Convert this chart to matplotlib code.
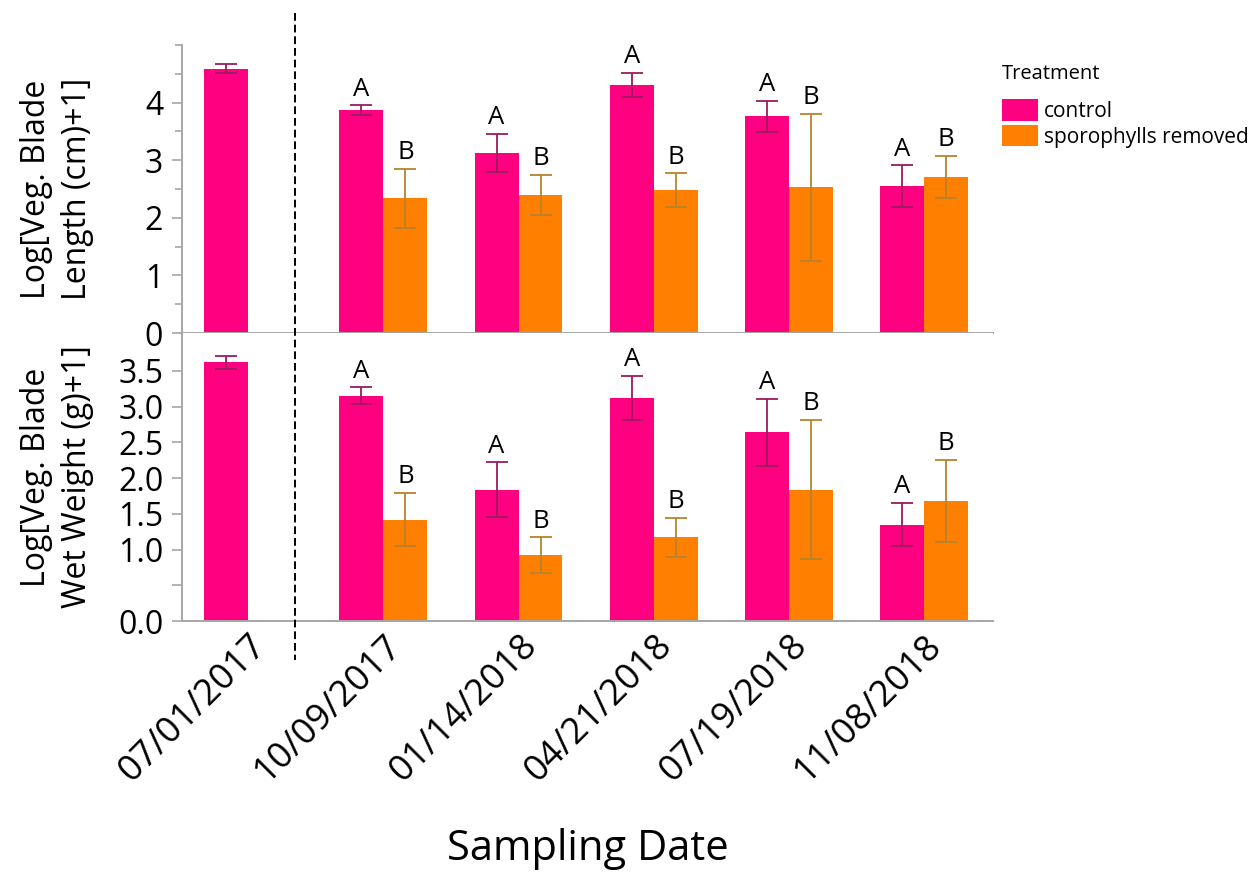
import numpy as np
import matplotlib
matplotlib.use("Agg")
import matplotlib.pyplot as plt
from matplotlib.patches import Patch
from matplotlib.lines import Line2D
from matplotlib.ticker import MultipleLocator

plt.rcParams['font.family'] = ['Open Sans', 'DejaVu Sans']

# ---------------- data ----------------
dates = ['07/01/2017', '10/09/2017', '01/14/2018', '04/21/2018', '07/19/2018', '11/08/2018']
treatments = ['control', 'sporophylls removed']

len_ctrl = [4.59, 3.87, 3.13, 4.31, 3.76, 2.55]
len_ctrl_err = [0.08, 0.08, 0.33, 0.21, 0.27, 0.36]
len_spor = [np.nan, 2.34, 2.40, 2.48, 2.53, 2.71]
len_spor_err = [np.nan, 0.51, 0.35, 0.29, 1.28, 0.36]

wt_ctrl = [3.62, 3.15, 1.84, 3.12, 2.64, 1.35]
wt_ctrl_err = [0.09, 0.12, 0.38, 0.31, 0.47, 0.30]
wt_spor = [np.nan, 1.42, 0.92, 1.17, 1.84, 1.68]
wt_spor_err = [np.nan, 0.37, 0.25, 0.27, 0.97, 0.57]

letters_ctrl = ['', 'A', 'A', 'A', 'A', 'A']
letters_spor = ['', 'B', 'B', 'B', 'B', 'B']

# ---------------- style ----------------
C_CTRL = '#FF0080'
C_SPOR = '#FF8000'
E_CTRL = '#9B1B5E'
E_SPOR = '#B8832B'
GRAY = '#A6A6A6'

W, H = 1254, 892
fig = plt.figure(figsize=(W / 100, H / 100), dpi=100)

def fx(px):
    return px / W

def fy(py):
    return 1 - py / H

left, right = 182, 993
ax1 = fig.add_axes([fx(left), fy(333), fx(right - left), fy(45) - fy(333)])
ax2 = fig.add_axes([fx(left), fy(621), fx(right - left), fy(333) - fy(621)], sharex=ax1)

x = np.arange(len(dates))
bw = 0.325

def draw(ax, ctrl, ctrl_err, spor, spor_err):
    ax.bar(x - bw / 2, ctrl, width=bw, color=C_CTRL, edgecolor='none', zorder=2)
    ax.bar(x + bw / 2, spor, width=bw, color=C_SPOR, edgecolor='none', zorder=2)
    ax.errorbar(x - bw / 2, ctrl, yerr=ctrl_err, fmt='none', ecolor=E_CTRL,
                elinewidth=1.3, capsize=8, capthick=1.3, zorder=3)
    ax.errorbar(x + bw / 2, spor, yerr=spor_err, fmt='none', ecolor=E_SPOR,
                elinewidth=1.3, capsize=8, capthick=1.3, zorder=3)
    for i in range(len(x)):
        if letters_ctrl[i]:
            ax.annotate(letters_ctrl[i], (x[i] - bw / 2, ctrl[i] + ctrl_err[i]),
                        xytext=(0, 7), textcoords='offset points',
                        ha='center', va='baseline', fontsize=18.5)
        if letters_spor[i] and not np.isnan(spor[i]):
            ax.annotate(letters_spor[i], (x[i] + bw / 2, spor[i] + spor_err[i]),
                        xytext=(0, 7), textcoords='offset points',
                        ha='center', va='baseline', fontsize=18.5)
    for s in ['top', 'right']:
        ax.spines[s].set_visible(False)
    for s in ['left', 'bottom']:
        ax.spines[s].set_color(GRAY)
        ax.spines[s].set_linewidth(1.4)
    ax.tick_params(axis='y', which='major', length=7.5, width=1.2, color=GRAY,
                   labelsize=23, pad=6)
    ax.tick_params(axis='y', which='minor', length=5, width=1.2, color=GRAY)
    ax.tick_params(axis='x', length=0)

draw(ax1, len_ctrl, len_ctrl_err, len_spor, len_spor_err)
draw(ax2, wt_ctrl, wt_ctrl_err, wt_spor, wt_spor_err)

ax1.set_xlim(-0.49, 5.51)
ax1.set_ylim(0, 5.0)
ax1.set_yticks([0, 1, 2, 3, 4])
ax1.yaxis.set_minor_locator(MultipleLocator(0.5))
ax1.tick_params(axis='x', labelbottom=False)

ax2.set_ylim(0, 4.03)
yt2 = [0.0, 0.5, 1.0, 1.5, 2.0, 2.5, 3.0, 3.5]
ax2.set_yticks(yt2)
ax2.set_yticklabels(['0.0', '', '1.0', '1.5', '2.0', '2.5', '3.0', '3.5'])

ax2.set_xticks(x)
ax2.set_xticklabels(dates, rotation=45, ha='right', va='top',
                    rotation_mode='anchor', fontsize=26)
ax2.tick_params(axis='x', pad=5)

ax1.set_ylabel('Log[Veg. Blade\nLength (cm)+1]', fontsize=23, linespacing=1.3)
ax2.set_ylabel('Log[Veg. Blade\nWet Weight (g)+1]', fontsize=23, linespacing=1.3)
ax1.yaxis.set_label_coords(-0.109, 0.5)
ax2.yaxis.set_label_coords(-0.109, 0.5)

fig.text(0.5 * (fx(left) + fx(right)), fy(860), 'Sampling Date', ha='center',
         va='baseline', fontsize=30)

# dashed separator
fig.add_artist(Line2D([fx(295), fx(295)], [fy(13), fy(660)], transform=fig.transFigure,
                      color='black', linewidth=1.4, linestyle=(0, (4, 2))))

handles = [Patch(facecolor=C_CTRL, edgecolor='none'), Patch(facecolor=C_SPOR, edgecolor='none')]
leg = fig.legend(handles, treatments, title='Treatment', loc='upper left',
                 bbox_to_anchor=(fx(1002), fy(64)), frameon=False, fontsize=15,
                 title_fontsize=14.5, handlelength=1.75, handleheight=1.2,
                 handletextpad=0.25, labelspacing=0.15, borderpad=0, borderaxespad=0,
                 alignment='left')
leg._legend_box.sep = 11

fig.savefig('out.png', dpi=100)
